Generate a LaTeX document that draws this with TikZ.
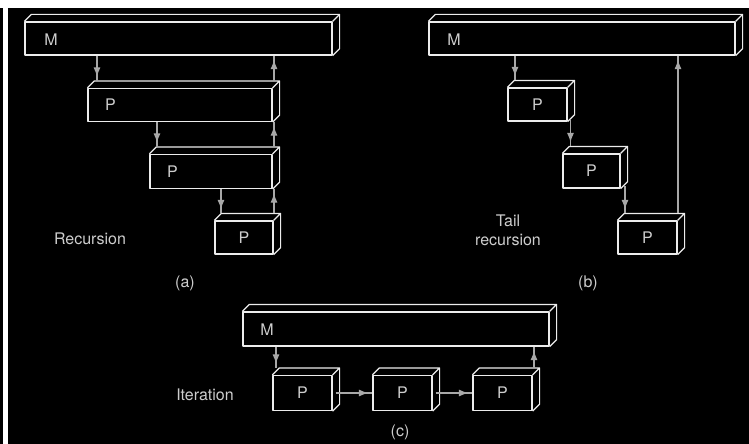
\documentclass[tikz,border=0pt]{standalone}
\usepackage{fontspec}
\setmainfont{TeX Gyre Heros}
\usetikzlibrary{arrows.meta,decorations.markings,calc}
\definecolor{boxline}{RGB}{236,236,236}
\definecolor{flowgray}{RGB}{168,168,168}
\definecolor{labelgray}{RGB}{205,205,205}
\newcommand\lblfont{\fontsize{16}{20}\selectfont}
% top and side faces of a cuboid whose front face is the node #1
\newcommand\boxfaces[1]{%
  \draw[facelines] (#1.north west) -- ++(7,-7)
    -- ([shift={(7pt,7pt)}]#1.north east)
    -- ([shift={(7pt,7pt)}]#1.south east) -- (#1.south east)
    (#1.north east) -- ++(7,-7);
  \coordinate (#1t) at ([yshift=7pt]#1.north);}
\begin{document}
\begin{tikzpicture}[x=1pt,y=-1pt,
  box/.style={draw=boxline, line width=1.2pt, line join=round, fill=black,
    inner sep=0pt, text=labelgray, font=\lblfont},
  facelines/.style={draw=boxline, line width=1.2pt, line join=round},
  txt/.style={text=labelgray, font=\lblfont, inner sep=0pt, align=center},
  flow/.style={color=flowgray, line width=1.2pt, postaction={decorate},
    decoration={markings,
      mark=at position -4pt with {\arrow{Latex[length=9.5pt,width=7pt]}}}}]
\useasboundingbox (0,0) rectangle (749,444);
\fill[black] (0,0) rectangle (749,444);
\fill[white] (0,0) rectangle (749,8);
\fill[white] (2.5,0) rectangle (8.3,444);

% (a) recursion
\node[box, minimum width=307pt, minimum height=33pt] (Ma) at (178.5,38.5) {};
\node[box, minimum width=184pt, minimum height=33pt] (Pa1) at (180,105) {};
\node[box, minimum width=122pt, minimum height=34pt] (Pa2) at (211,171.5) {};
\node[box, minimum width=58pt, minimum height=33pt] (Pa3) at (244,237.5) {P};
\node[txt] (lMa) at (51,39.5) {M};
\node[txt] (lPa1) at (110.5,105) {P};
\node[txt] (lPa2) at (172.5,172) {P};
\node[txt] (recur) at (90,239) {Recursion};
\node[txt] (capa) at (185,283) {(a)};

% (b) tail recursion
\node[box, minimum width=306pt, minimum height=33pt] (Mb) at (582,38.5) {};
\node[box, minimum width=59pt, minimum height=33pt] (Pb1) at (537.5,104.5) {P};
\node[box, minimum width=57pt, minimum height=34pt] (Pb2) at (591.5,171) {P};
\node[box, minimum width=59pt, minimum height=33pt] (Pb3) at (647.5,237.5) {P};
\node[txt] (lMb) at (454,39.5) {M};
\node[txt] (tail) at (508,230) {Tail\\[-1pt]recursion};
\node[txt] (capb) at (588,283) {(b)};

% (c) iteration
\node[box, minimum width=306pt, minimum height=34pt] (Mc) at (396,329) {};
\node[box, minimum width=59pt, minimum height=35pt] (Pc1) at (302.5,393) {P};
\node[box, minimum width=59pt, minimum height=35pt] (Pc2) at (402.5,393) {P};
\node[box, minimum width=59pt, minimum height=35pt] (Pc3) at (502.5,393) {P};
\node[txt] (lMc) at (267,329.5) {M};
\node[txt] (iter) at (205,395) {Iteration};
\node[txt] (capc) at (400,432) {(c)};

\foreach \b in {Ma,Pa1,Pa2,Pa3,Mb,Pb1,Pb2,Pb3,Mc,Pc1,Pc2,Pc3}{\boxfaces{\b}}

% vertical lanes of the connectors
\coordinate (xa1) at (97,0);
\coordinate (xa2) at (157,0);
\coordinate (xa3) at (221,0);
\coordinate (xaU) at (274,0);
\coordinate (xb1) at (515,0);
\coordinate (xb2) at (570.5,0);
\coordinate (xb3) at (625,0);
\coordinate (xbU) at (678,0);
\coordinate (xc1) at (276,0);
\coordinate (xcU) at (534,0);

\draw[flow] (xa1 |- Ma.south) -- (xa1 |- Pa1t);
\draw[flow] (xaU |- Pa1t) -- (xaU |- Ma.south);
\draw[flow] (xa2 |- Pa1.south) -- (xa2 |- Pa2t);
\draw[flow] (xaU |- Pa2t) -- (xaU |- Pa1.south);
\draw[flow] (xa3 |- Pa2.south) -- (xa3 |- Pa3t);
\draw[flow] (xaU |- Pa3t) -- (xaU |- Pa2.south);

\draw[flow] (xb1 |- Mb.south) -- (xb1 |- Pb1t);
\draw[flow] ($(xb2 |- Pb1.south)+(0,-3)$) -- (xb2 |- Pb2t);
\draw[flow] ($(xb3 |- Pb2.south)+(0,-3)$) -- (xb3 |- Pb3t);
\draw[flow] (xbU |- Pb3t) -- (xbU |- Mb.south);

\draw[flow] (xc1 |- Mc.south) -- (xc1 |- Pc1t);
\draw[flow] ([xshift=3pt]Pc1.east) -- (Pc2.west);
\draw[flow] ([xshift=3pt]Pc2.east) -- (Pc3.west);
\draw[flow] (xcU |- Pc3t) -- (xcU |- Mc.south);
\end{tikzpicture}
\end{document}
